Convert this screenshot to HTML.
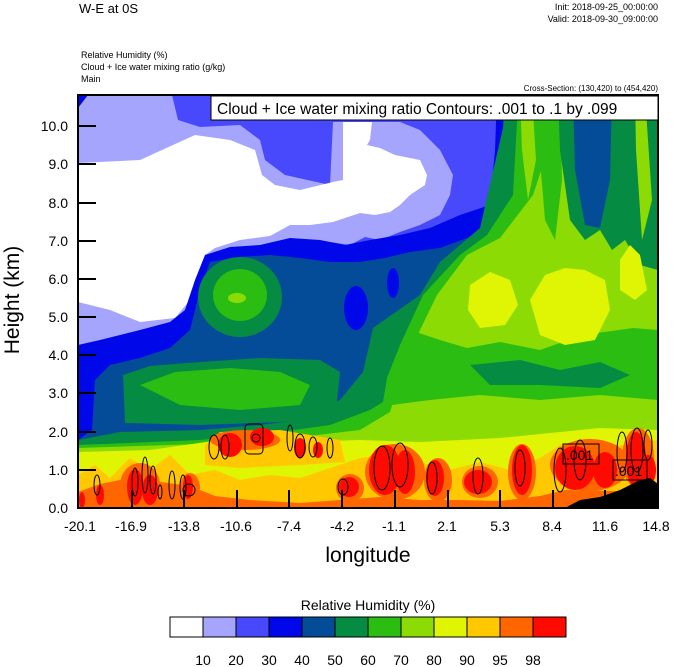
<!DOCTYPE html>
<html><head><meta charset="utf-8"><style>
html,body{margin:0;padding:0;background:#fff;}
svg{display:block;font-family:"Liberation Sans",sans-serif;}
</style></head><body>
<svg width="674" height="667" viewBox="0 0 674 667" xmlns="http://www.w3.org/2000/svg">
<rect width="674" height="667" fill="#fff"/>
<text x="79" y="13" font-size="13">W-E at 0S</text>
<text x="658" y="10" font-size="9" text-anchor="end">Init: 2018-09-25_00:00:00</text>
<text x="658" y="22" font-size="9" text-anchor="end">Valid: 2018-09-30_09:00:00</text>
<text x="81" y="58" font-size="9">Relative Humidity   (%)</text>
<text x="81" y="70" font-size="9">Cloud + Ice water mixing ratio   (g/kg)</text>
<text x="81" y="82" font-size="9">Main</text>
<text x="658" y="91" font-size="8" text-anchor="end">Cross-Section: (130,420) to (454,420)</text>
<defs><clipPath id="c"><rect x="78" y="95" width="580" height="413"/></clipPath></defs>
<g clip-path="url(#c)">
<rect x="78" y="95" width="580" height="413" fill="#4848fd"/>
<polygon fill="#0008ea" points="78,95 90,95 84,105 78,108"/>
<polygon fill="#a5a5fd" points="88,95 172,95 178,120 200,127 240,125 260,140 265,160 285,175 330,185 333,122 400,122 420,130 440,150 453,175 450,195 440,215 420,225 400,232 380,240 365,237 350,245 330,242 300,245 270,245 240,255 215,260 200,270 190,300 175,330 130,338 100,345 78,350 78,108"/>
<polygon fill="#fff" points="78,163 140,160 195,135 230,140 255,150 262,175 275,185 300,190 333,182 343,180 343,122 372,122 370,140 367,145 380,148 395,155 420,160 427,175 425,185 410,195 400,205 390,212 375,215 360,213 345,218 333,222 310,225 290,225 270,236 240,240 215,248 205,255 200,270 190,300 175,318 140,322 110,310 78,302"/>
<polygon fill="#0008ea" points="78,345 100,340 140,330 170,322 185,310 195,280 205,255 230,247 260,245 290,238 320,240 345,245 370,240 400,235 430,228 460,215 490,205 495,150 497,95 658,95 658,508 78,508"/>
<polygon fill="#044c98" points="78,440 92,430 95,380 110,365 140,358 170,348 190,330 200,290 210,262 240,257 270,255 300,258 330,262 360,262 385,258 410,252 440,248 470,237 495,225 503,180 505,130 510,95 658,95 658,508 78,508"/>
<ellipse cx="356" cy="308" rx="12" ry="22" fill="#0008ea"/>
<ellipse cx="393" cy="283" rx="6" ry="15" fill="#0008ea"/>
<ellipse cx="240" cy="297" rx="42" ry="40" fill="#058b42"/>
<ellipse cx="240" cy="295" rx="27" ry="26" fill="#2cbd12"/>
<ellipse cx="237" cy="298" rx="9" ry="5" fill="#8cdb04"/>
<polygon fill="#058b42" points="123,375 150,366 200,362 260,358 320,360 340,372 335,420 200,425 125,423"/>
<polygon fill="#2cbd12" points="140,385 175,372 230,368 280,372 310,385 300,405 240,410 180,405"/>
<polygon fill="#058b42" points="78,440 120,432 200,430 260,425 300,420 340,400 363,372 373,328 420,295 440,262 480,228 503,128 505,95 658,95 658,508 78,508"/>
<polygon fill="#2cbd12" points="78,445 200,440 280,432 330,425 370,410 383,402 387,378 400,345 423,295 460,255 487,235 513,195 517,122 520,95 658,95 658,508 78,508"/>
<polygon fill="#8cdb04" points="78,448 200,444 300,437 360,430 390,412 400,380 420,330 437,295 467,255 500,238 533,195 548,150 553,95 658,95 658,508 78,508"/>
<polygon fill="#2cbd12" points="410,330 440,340 467,348 500,342 540,350 583,335 633,328 658,330 658,400 600,395 540,400 480,395 430,400 392,405 398,360"/>
<polygon fill="#058b42" points="470,365 520,360 560,370 600,362 630,375 600,388 540,385 490,385"/>
<polygon fill="#2cbd12" points="533,95 560,95 562,180 555,240 545,220 540,160"/>
<polygon fill="#058b42" points="558,95 658,95 658,270 640,265 625,240 612,250 600,230 585,240 570,220 560,150"/>
<polygon fill="#044c98" points="573,95 612,95 610,180 600,228 585,225 575,170"/>
<polygon fill="#8cdb04" points="635,95 645,95 652,200 642,240 636,150"/>
<polygon fill="#8cdb04" points="520,95 532,95 536,160 528,200 522,150"/>
<polygon fill="#e0f503" points="470,285 490,272 510,280 518,305 505,325 480,328 468,310"/>
<polygon fill="#e0f503" points="530,300 545,275 565,268 585,270 605,280 610,310 595,340 565,345 540,335"/>
<polygon fill="#e0f503" points="620,260 630,245 640,255 647,290 635,300 620,290"/>
<polygon fill="#e0f503" points="78,452 150,450 220,440 300,442 360,440 420,442 500,438 560,432 600,428 658,430 658,508 78,508"/>
<polygon fill="#ffc800" points="205,445 220,432 280,430 340,440 345,462 300,465 240,468 205,465"/>
<polygon fill="#ffc800" points="78,475 95,465 110,478 130,458 150,470 170,455 190,475 215,470 240,480 270,475 300,478 330,468 360,458 390,455 420,462 450,470 480,462 510,470 540,458 560,445 590,440 620,445 658,440 658,508 78,508"/>
<g fill="#ff6600">
<polygon points="78,492 100,484 130,478 160,482 190,486 215,496 250,500 300,503 340,500 380,497 420,500 460,500 500,501 540,496 565,490 658,492 658,508 78,508"/>
<ellipse cx="245" cy="440" rx="35" ry="10"/>
<ellipse cx="140" cy="485" rx="20" ry="22"/><ellipse cx="190" cy="488" rx="10" ry="15"/>
<ellipse cx="350" cy="488" rx="14" ry="14"/><ellipse cx="395" cy="472" rx="30" ry="28"/><ellipse cx="438" cy="480" rx="14" ry="22"/>
<ellipse cx="480" cy="482" rx="18" ry="16"/><ellipse cx="522" cy="472" rx="14" ry="28"/><ellipse cx="590" cy="465" rx="40" ry="26"/><ellipse cx="638" cy="458" rx="16" ry="30"/>
</g>
<g fill="#ff0a00">
<ellipse cx="230" cy="445" rx="12" ry="12"/><ellipse cx="262" cy="437" rx="12" ry="9"/><ellipse cx="300" cy="448" rx="6" ry="10"/><ellipse cx="318" cy="450" rx="5" ry="8"/>
<ellipse cx="135" cy="487" rx="8" ry="18"/><ellipse cx="150" cy="490" rx="8" ry="15"/><ellipse cx="188" cy="487" rx="5" ry="12"/><ellipse cx="100" cy="495" rx="4" ry="10"/><ellipse cx="82" cy="500" rx="3" ry="8"/>
<ellipse cx="349" cy="487" rx="10" ry="10"/><ellipse cx="385" cy="470" rx="16" ry="25"/><ellipse cx="405" cy="472" rx="10" ry="22"/><ellipse cx="435" cy="478" rx="9" ry="18"/>
<ellipse cx="478" cy="482" rx="14" ry="12"/><ellipse cx="522" cy="470" rx="10" ry="25"/><ellipse cx="575" cy="468" rx="20" ry="22"/><ellipse cx="605" cy="470" rx="12" ry="18"/>
<ellipse cx="636" cy="460" rx="10" ry="28"/><ellipse cx="648" cy="470" rx="8" ry="15"/>
</g>
<polygon fill="#000" points="565,508 580,500 600,497 620,490 640,480 650,478 658,484 658,508"/>
<g fill="none" stroke="#000" stroke-width="1">
<ellipse cx="97" cy="485" rx="3" ry="10"/><ellipse cx="135" cy="482" rx="3" ry="14"/><ellipse cx="145" cy="475" rx="3" ry="18"/>
<ellipse cx="153" cy="480" rx="3" ry="14"/><ellipse cx="160" cy="492" rx="2" ry="7"/><ellipse cx="172" cy="485" rx="3" ry="14"/>
<ellipse cx="183" cy="487" rx="3" ry="12"/><ellipse cx="189" cy="490" rx="6" ry="6"/><ellipse cx="214" cy="447" rx="5" ry="12"/><ellipse cx="225" cy="447" rx="4" ry="12"/>
<rect x="245" y="424" width="18" height="30" rx="4"/><ellipse cx="256" cy="438" rx="4" ry="4"/>
<ellipse cx="290" cy="438" rx="3" ry="13"/><ellipse cx="300" cy="446" rx="5" ry="12"/><ellipse cx="313" cy="447" rx="4" ry="10"/><ellipse cx="330" cy="448" rx="3" ry="10"/>
<ellipse cx="343" cy="487" rx="5" ry="8"/><ellipse cx="382" cy="468" rx="8" ry="22"/><ellipse cx="400" cy="465" rx="8" ry="22"/>
<ellipse cx="432" cy="478" rx="5" ry="16"/><ellipse cx="478" cy="476" rx="5" ry="18"/><ellipse cx="520" cy="468" rx="5" ry="18"/>
<ellipse cx="560" cy="470" rx="6" ry="22"/><ellipse cx="580" cy="460" rx="6" ry="20"/><ellipse cx="622" cy="452" rx="5" ry="20"/>
<ellipse cx="637" cy="450" rx="6" ry="22"/><ellipse cx="648" cy="445" rx="4" ry="15"/>
</g>
<rect x="563" y="444" width="36" height="20" fill="none" stroke="#000"/>
<text x="566" y="460" font-size="14">.001</text>
<rect x="613" y="460" width="34" height="20" fill="none" stroke="#000"/>
<text x="615" y="476" font-size="14">.001</text>
</g>
<rect x="78" y="95" width="580" height="413" fill="none" stroke="#000" stroke-width="2"/>
<rect x="211" y="96" width="447" height="24" fill="#fff" stroke="#000" stroke-width="1"/>
<text x="217" y="114" font-size="15.5">Cloud + Ice water mixing ratio Contours: .001 to .1 by .099</text>
<g stroke="#000" stroke-width="2">
<line x1="78" y1="508" x2="96" y2="508"/><line x1="78" y1="470" x2="96" y2="470"/><line x1="78" y1="432" x2="96" y2="432"/>
<line x1="78" y1="393" x2="96" y2="393"/><line x1="78" y1="355" x2="96" y2="355"/><line x1="78" y1="317" x2="96" y2="317"/>
<line x1="78" y1="279" x2="96" y2="279"/><line x1="78" y1="241" x2="96" y2="241"/><line x1="78" y1="203" x2="96" y2="203"/>
<line x1="78" y1="164" x2="96" y2="164"/><line x1="78" y1="126" x2="96" y2="126"/>
<line x1="132" y1="508" x2="132" y2="490"/><line x1="184" y1="508" x2="184" y2="490"/><line x1="237" y1="508" x2="237" y2="490"/>
<line x1="289" y1="508" x2="289" y2="490"/><line x1="342" y1="508" x2="342" y2="490"/><line x1="395" y1="508" x2="395" y2="490"/>
<line x1="448" y1="508" x2="448" y2="490"/><line x1="500" y1="508" x2="500" y2="490"/><line x1="553" y1="508" x2="553" y2="490"/>
<line x1="605" y1="508" x2="605" y2="490"/>
</g>
<g font-size="14" text-anchor="end">
<text x="68" y="513">0.0</text><text x="68" y="475">1.0</text><text x="68" y="437">2.0</text><text x="68" y="398">3.0</text>
<text x="68" y="360">4.0</text><text x="68" y="322">5.0</text><text x="68" y="284">6.0</text><text x="68" y="246">7.0</text>
<text x="68" y="208">8.0</text><text x="68" y="169">9.0</text><text x="68" y="131">10.0</text>
</g>
<g font-size="14" text-anchor="middle">
<text x="80" y="531">-20.1</text><text x="131" y="531">-16.9</text><text x="184" y="531">-13.8</text><text x="236" y="531">-10.6</text>
<text x="289" y="531">-7.4</text><text x="342" y="531">-4.2</text><text x="394" y="531">-1.1</text><text x="447" y="531">2.1</text>
<text x="500" y="531">5.3</text><text x="552" y="531">8.4</text><text x="605" y="531">11.6</text><text x="656" y="531">14.8</text>
</g>
<text x="368" y="562" font-size="21" text-anchor="middle">longitude</text>
<text transform="translate(19,300) rotate(-90)" font-size="21" text-anchor="middle">Height (km)</text>
<text x="368" y="610" font-size="14" text-anchor="middle">Relative Humidity  (%)</text>
<g stroke="#000" stroke-width="1">
<rect x="170" y="617" width="33" height="20" fill="#fff"/>
<rect x="203" y="617" width="33" height="20" fill="#a5a5fd"/>
<rect x="236" y="617" width="33" height="20" fill="#4848fd"/>
<rect x="269" y="617" width="33" height="20" fill="#0008ea"/>
<rect x="302" y="617" width="33" height="20" fill="#044c98"/>
<rect x="335" y="617" width="33" height="20" fill="#058b42"/>
<rect x="368" y="617" width="33" height="20" fill="#2cbd12"/>
<rect x="401" y="617" width="33" height="20" fill="#8cdb04"/>
<rect x="434" y="617" width="33" height="20" fill="#e0f503"/>
<rect x="467" y="617" width="33" height="20" fill="#ffc800"/>
<rect x="500" y="617" width="33" height="20" fill="#ff6600"/>
<rect x="533" y="617" width="33" height="20" fill="#ff0a00"/>
</g>
<g font-size="14" text-anchor="middle">
<text x="203" y="665">10</text><text x="236" y="665">20</text><text x="269" y="665">30</text><text x="302" y="665">40</text>
<text x="335" y="665">50</text><text x="368" y="665">60</text><text x="401" y="665">70</text><text x="434" y="665">80</text>
<text x="467" y="665">90</text><text x="500" y="665">95</text><text x="533" y="665">98</text>
</g>
</svg>
</body></html>
